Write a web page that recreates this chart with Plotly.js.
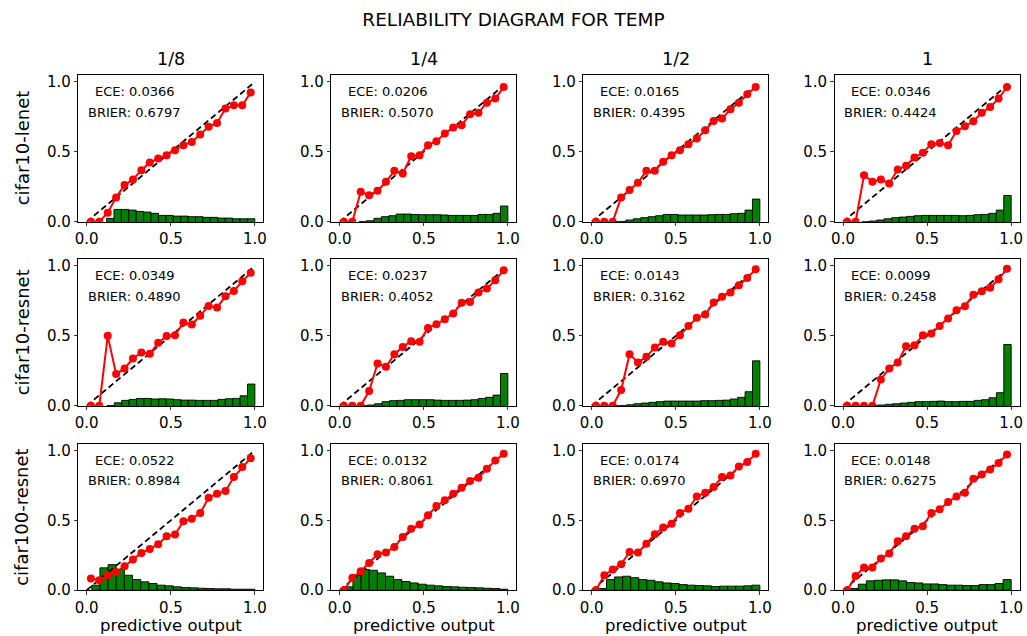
<!DOCTYPE html>
<html><head><meta charset="utf-8">
<script src="https://cdn.plot.ly/plotly-3.0.1.min.js"></script>
<style>html,body{margin:0;padding:0;background:#fff}#chart{width:1027px;height:636px}</style>
</head><body><div id="chart"></div>
<script>
const mainTitle = 'RELIABILITY DIAGRAM FOR TEMP';
const columnTitles = ['1/8', '1/4', '1/2', '1'];
const rowTitles = ['cifar10-lenet', 'cifar10-resnet', 'cifar100-resnet'];
const xTitle = 'predictive output';
const tickValues = [0, 0.5, 1];
const tickLabels = ['0.0', '0.5', '1.0'];
const diagonal = [0, 1];
const binCenters = [0.025,0.075,0.125,0.175,0.225,0.275,0.325,0.375,0.425,0.475,0.525,0.575,0.625,0.675,0.725,0.775,0.825,0.875,0.925,0.975];

// ECE / BRIER per row (columns 1/8, 1/4, 1/2, 1)
const eceLenet = [0.0366, 0.0206, 0.0165, 0.0346];
const brierLenet = [0.6797, 0.5070, 0.4395, 0.4424];
const eceResnet10 = [0.0349, 0.0237, 0.0143, 0.0099];
const brierResnet10 = [0.4890, 0.4052, 0.3162, 0.2458];
const eceResnet100 = [0.0522, 0.0132, 0.0174, 0.0148];
const brierResnet100 = [0.8984, 0.8061, 0.6970, 0.6275];

// accuracy per confidence bin
const accLenet = [
  [0,0,0.064,0.174,0.262,0.302,0.369,0.424,0.452,0.476,0.512,0.548,0.571,0.624,0.679,0.707,0.81,0.833,0.833,0.924],
  [0,0,0.214,0.19,0.221,0.286,0.364,0.345,0.469,0.476,0.548,0.576,0.631,0.674,0.69,0.769,0.779,0.852,0.881,0.964],
  [0,0,0,0.174,0.226,0.279,0.364,0.364,0.429,0.476,0.512,0.555,0.595,0.655,0.721,0.738,0.805,0.852,0.912,0.964],
  [0,0,0.333,0.286,0.302,0.274,0.374,0.4,0.46,0.493,0.555,0.564,0.548,0.65,0.683,0.719,0.779,0.821,0.881,0.964]
];
const accResnet10 = [
  [0,0,0.5,0.226,0.267,0.338,0.381,0.371,0.45,0.498,0.505,0.595,0.581,0.643,0.714,0.702,0.783,0.821,0.89,0.952],
  [0,0,0,0.105,0.302,0.279,0.369,0.421,0.462,0.457,0.557,0.583,0.619,0.66,0.736,0.743,0.81,0.838,0.898,0.969],
  [0,0,0,0.112,0.369,0.31,0.35,0.417,0.457,0.445,0.505,0.571,0.629,0.652,0.738,0.779,0.81,0.862,0.914,0.976],
  [0,0,0,0,0.188,0.267,0.31,0.426,0.433,0.505,0.517,0.571,0.624,0.683,0.712,0.795,0.819,0.845,0.905,0.981]
];
const accResnet100 = [
  [0.083,0.071,0.107,0.131,0.171,0.219,0.267,0.295,0.329,0.386,0.398,0.493,0.512,0.552,0.662,0.69,0.71,0.81,0.881,0.945],
  [0,0.09,0.136,0.195,0.257,0.269,0.31,0.381,0.44,0.471,0.536,0.602,0.643,0.69,0.733,0.781,0.805,0.869,0.929,0.976],
  [0,0.107,0.148,0.186,0.274,0.269,0.333,0.4,0.448,0.476,0.552,0.583,0.671,0.698,0.738,0.81,0.821,0.886,0.917,0.976],
  [0,0.102,0.162,0.162,0.226,0.262,0.35,0.386,0.44,0.457,0.552,0.579,0.631,0.671,0.698,0.798,0.829,0.864,0.91,0.971]
];

// histogram of confidences: 20 equal bins from min confidence to 1
const histStartLenet = [0.118, 0.115, 0.115, 0.112];
const histStartResnet10 = [0.12, 0.12, 0.12, 0.12];
const histStartResnet100 = [0.03, 0.03, 0.04, 0.043];
const histEnd = 1.0;
const histLenet = [
  [0.024,0.088,0.088,0.083,0.074,0.069,0.06,0.045,0.045,0.04,0.04,0.036,0.036,0.031,0.031,0.026,0.026,0.021,0.021,0.021],
  [0.002,0.007,0.024,0.036,0.043,0.055,0.055,0.052,0.05,0.05,0.05,0.048,0.045,0.045,0.045,0.045,0.052,0.052,0.06,0.112],
  [0,0.002,0.012,0.021,0.029,0.036,0.043,0.052,0.052,0.048,0.048,0.048,0.048,0.05,0.052,0.052,0.057,0.06,0.083,0.162],
  [0,0.005,0.012,0.021,0.029,0.033,0.038,0.043,0.045,0.045,0.045,0.045,0.045,0.043,0.045,0.05,0.052,0.06,0.083,0.188]
];
const histResnet10 = [
  [0.002,0.021,0.038,0.045,0.052,0.052,0.048,0.05,0.048,0.043,0.04,0.04,0.038,0.038,0.038,0.045,0.05,0.052,0.071,0.155],
  [0,0.005,0.014,0.029,0.036,0.038,0.043,0.043,0.043,0.043,0.04,0.038,0.038,0.038,0.04,0.043,0.052,0.06,0.076,0.231],
  [0,0.002,0.007,0.014,0.019,0.024,0.029,0.033,0.033,0.033,0.033,0.033,0.036,0.036,0.038,0.04,0.048,0.06,0.1,0.321],
  [0,0.002,0.005,0.01,0.014,0.019,0.024,0.029,0.029,0.031,0.033,0.029,0.029,0.031,0.031,0.038,0.043,0.057,0.093,0.438]
];
const histResnet100 = [
  [0.036,0.16,0.183,0.148,0.107,0.076,0.06,0.048,0.036,0.031,0.024,0.019,0.017,0.014,0.012,0.01,0.01,0.007,0.007,0.007],
  [0.024,0.107,0.148,0.143,0.124,0.1,0.076,0.062,0.052,0.043,0.036,0.031,0.026,0.024,0.021,0.019,0.017,0.014,0.012,0.007],
  [0.012,0.076,0.095,0.1,0.09,0.076,0.071,0.06,0.052,0.048,0.04,0.036,0.033,0.031,0.026,0.029,0.029,0.029,0.031,0.036],
  [0.012,0.043,0.067,0.071,0.074,0.074,0.067,0.055,0.052,0.045,0.045,0.04,0.036,0.036,0.033,0.033,0.04,0.04,0.048,0.076]
];

const rowsData = [
  {acc: accLenet, hist: histLenet, start: histStartLenet, ece: eceLenet, brier: brierLenet},
  {acc: accResnet10, hist: histResnet10, start: histStartResnet10, ece: eceResnet10, brier: brierResnet10},
  {acc: accResnet100, hist: histResnet100, start: histStartResnet100, ece: eceResnet100, brier: brierResnet100}
];

const W = 1027, H = 636;
const colLeft = [78.3, 331.3, 583.3, 834.6];
const axW = 185;
const rowTop = [75, 259, 443.5];
const axH = 146.7;
const FONT = 'DejaVu Sans, Arial, sans-serif';

const traces = [];
const layout = {
  width: W, height: H,
  margin: {l: 0, r: 0, t: 0, b: 0},
  paper_bgcolor: '#fff', plot_bgcolor: '#fff',
  showlegend: false,
  font: {family: FONT, color: '#000'},
  title: {text: mainTitle, x: 0.5, xanchor: 'center', y: 1 - 20 / H, yanchor: 'middle',
          font: {family: FONT, size: 18.5, color: '#000'}},
  annotations: []
};

for (let r = 0; r < 3; r++) {
  const rd = rowsData[r];
  for (let c = 0; c < 4; c++) {
    const k = r * 4 + c + 1;
    const xa = k === 1 ? 'x' : 'x' + k;
    const ya = k === 1 ? 'y' : 'y' + k;
    const axCommon = {
      showline: true, mirror: true, linecolor: '#000', linewidth: 1,
      ticks: 'outside', ticklen: 3.5, tickwidth: 0.8, tickcolor: '#000',
      showgrid: false, zeroline: false,
      tickvals: tickValues, ticktext: tickLabels,
      tickfont: {family: FONT, size: 15, color: '#000'},
      fixedrange: true
    };
    layout['xaxis' + (k === 1 ? '' : k)] = Object.assign({}, axCommon, {
      domain: [colLeft[c] / W, (colLeft[c] + axW) / W],
      range: [-0.05, 1.05], anchor: ya
    });
    layout['yaxis' + (k === 1 ? '' : k)] = Object.assign({}, axCommon, {
      domain: [1 - (rowTop[r] + axH) / H, 1 - rowTop[r] / H],
      range: [0, 1.05], anchor: xa
    });

    const start = rd.start[c];
    const n = rd.hist[c].length;
    const w = (histEnd - start) / n;
    const bx = rd.hist[c].map((_, i) => start + (i + 0.5) * w);
    traces.push({
      type: 'bar', x: bx, y: rd.hist[c], width: w, xaxis: xa, yaxis: ya,
      marker: {color: '#008000', line: {color: '#000', width: 0.9}},
      hoverinfo: 'skip'
    });
    traces.push({
      type: 'scatter', mode: 'lines', x: diagonal, y: diagonal, xaxis: xa, yaxis: ya,
      line: {color: '#000', width: 1.8, dash: '6px,3.5px'}, hoverinfo: 'skip'
    });
    traces.push({
      type: 'scatter', mode: 'lines+markers', x: binCenters, y: rd.acc[c], xaxis: xa, yaxis: ya,
      line: {color: '#ff0000', width: 2}, marker: {color: '#ff0000', size: 8}
    });
    layout.annotations.push({
      xref: xa, yref: ya, x: 0.285, y: 0.93, text: 'ECE: ' + rd.ece[c].toFixed(4),
      showarrow: false, xanchor: 'center', yanchor: 'middle',
      font: {family: FONT, size: 13, color: '#000'}
    });
    layout.annotations.push({
      xref: xa, yref: ya, x: 0.285, y: 0.785, text: 'BRIER: ' + rd.brier[c].toFixed(4),
      showarrow: false, xanchor: 'center', yanchor: 'middle',
      font: {family: FONT, size: 13, color: '#000'}
    });
  }
}

// column titles and x-axis titles
for (let c = 0; c < 4; c++) {
  layout.annotations.push({
    xref: 'paper', yref: 'paper', x: (colLeft[c] + axW / 2) / W, y: 1 - 59 / H,
    text: columnTitles[c], showarrow: false, xanchor: 'center', yanchor: 'middle',
    font: {family: FONT, size: 17.5, color: '#000'}
  });
  layout.annotations.push({
    xref: 'paper', yref: 'paper', x: (colLeft[c] + axW / 2) / W, y: 1 - 625 / H,
    text: xTitle, showarrow: false, xanchor: 'center', yanchor: 'middle',
    font: {family: FONT, size: 16.5, color: '#000'}
  });
}
// row titles
for (let r = 0; r < 3; r++) {
  layout.annotations.push({
    xref: 'paper', yref: 'paper', x: 22 / W, y: 1 - (rowTop[r] + axH / 2) / H,
    text: rowTitles[r], showarrow: false, xanchor: 'center', yanchor: 'middle', textangle: -90,
    font: {family: FONT, size: 18, color: '#000'}
  });
}

Plotly.newPlot('chart', traces, layout, {displayModeBar: false, staticPlot: true});
</script>
</body></html>
